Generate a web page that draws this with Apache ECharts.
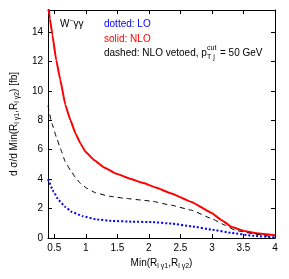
<!DOCTYPE html>
<html><head><meta charset="utf-8">
<script src="https://cdn.jsdelivr.net/npm/echarts@6/dist/echarts.min.js"></script>
<style>html,body{margin:0;padding:0;background:#fff}#c{width:289px;height:279px}</style>
</head><body><div id="c"></div>
<script>
const xTicks = [0.5, 1, 1.5, 2, 2.5, 3, 3.5, 4];
const yTicks = [0, 2, 4, 6, 8, 10, 12, 14];
const nloX = [0.40, 0.43, 0.47, 0.53, 0.595, 0.675, 0.755, 0.835, 0.915, 0.995, 1.13, 1.29, 1.475, 1.69, 1.9, 2.11, 2.355, 2.675, 2.995, 3.155, 3.315, 3.53, 3.74, 4.0];
const nloY = [16.0, 14.9, 13.8, 12.1, 10.75, 9.05, 8.02, 7.12, 6.43, 5.86, 5.3, 4.8, 4.39, 4.05, 3.75, 3.43, 3.03, 2.45, 1.70, 1.21, 0.75, 0.46, 0.3, 0.18];
const vetoX = [0.40, 0.46, 0.54, 0.595, 0.675, 0.755, 0.835, 0.915, 1.02, 1.155, 1.37, 1.635, 1.9, 2.06, 2.355, 2.675, 2.995, 3.21, 3.37, 3.64, 4.0];
const vetoY = [9.0, 7.8, 6.78, 6.09, 5.18, 4.61, 4.12, 3.71, 3.37, 3.07, 2.84, 2.69, 2.57, 2.49, 2.23, 1.89, 1.32, 0.87, 0.52, 0.3, 0.05];
const loX = [0.40, 0.49, 0.57, 0.675, 0.78, 0.94, 1.155, 1.42, 1.74, 2.06, 2.355, 2.675, 2.995, 3.315, 3.64, 4.0];
const loY = [4.0, 3.14, 2.57, 2.11, 1.77, 1.5, 1.27, 1.16, 1.11, 1.08, 0.98, 0.8, 0.57, 0.34, 0.16, 0.03];

const zip = (a, b) => a.map((v, i) => [v, b[i]]);
const F = 'Liberation Sans, Arial, sans-serif';
const chart = echarts.init(document.getElementById('c'));
const axX = (pos, show) => ({
  type: 'value', min: 0.4, max: 4, position: pos,
  axisLine: { show: true, onZero: false, lineStyle: { color: '#000', width: 1 } },
  axisTick: { show: true, inside: true, length: 4, customValues: xTicks, lineStyle: { color: '#000' } },
  axisLabel: { show: show, customValues: xTicks, color: '#000', fontFamily: F, fontSize: 10, margin: 5 },
  splitLine: { show: false }
});
const axY = (pos, show) => ({
  type: 'value', min: 0, max: 15.5, position: pos,
  axisLine: { show: true, onZero: false, lineStyle: { color: '#000', width: 1 } },
  axisTick: { show: true, inside: true, length: 4, customValues: yTicks, lineStyle: { color: '#000' } },
  axisLabel: { show: show, customValues: yTicks, color: '#000', fontFamily: F, fontSize: 10, margin: 5 },
  splitLine: { show: false }
});
const xa0 = axX('bottom', true);
xa0.name = 'Min(R{s|l γ1},R{s|l γ2})';
xa0.nameLocation = 'middle';
xa0.nameGap = 16;
xa0.nameTextStyle = { color: '#000', fontFamily: F, fontSize: 10, rich: { s: { fontSize: 7, padding: [6, 0, 0, 0], fontFamily: F } } };
const ya0 = axY('left', true);
ya0.name = 'd σ/d Min(R{s|l γ1},R{s|l γ2}) [fb]';
ya0.nameLocation = 'middle';
ya0.nameGap = 18;
ya0.nameRotate = 90;
ya0.nameTextStyle = { color: '#000', fontFamily: F, fontSize: 10, rich: { s: { fontSize: 7, padding: [6, 0, 0, 0], fontFamily: F } } };

chart.setOption({
  animation: false,
  grid: { left: 48, right: 14, top: 10, bottom: 41 },
  xAxis: [xa0, axX('top', false)],
  yAxis: [ya0, axY('right', false)],
  series: [
    { type: 'line', data: zip(nloX, nloY), smooth: 0.1, smoothMonotone: 'x', symbol: 'none', clip: true,
      lineStyle: { color: '#ff0000', width: 2 } },
    { type: 'line', data: zip(vetoX, vetoY), smooth: 0.1, smoothMonotone: 'x', symbol: 'none', clip: true,
      lineStyle: { color: '#000', width: 1, type: [5, 4] } },
    { type: 'line', data: zip(loX, loY), smooth: 0.1, smoothMonotone: 'x', symbol: 'none', clip: true,
      lineStyle: { color: '#0000ff', width: 2, type: [2, 2] } }
  ],
  graphic: [
    { type: 'text', left: 60, top: 18, style: { text: 'W{s|−}γγ', fill: '#000', font: '10px ' + F, rich: { s: { fontSize: 7, padding: [0, 0, 6, 0] } } } },
    { type: 'text', left: 104, top: 19, style: { text: 'dotted: LO', fill: '#0000ff', font: '10px ' + F } },
    { type: 'text', left: 104, top: 34, style: { text: 'solid: NLO', fill: '#ff0000', font: '10px ' + F } },
    { type: 'text', left: 104, top: 48, style: { text: 'dashed: NLO vetoed, p', fill: '#000', font: '10px ' + F } },
    { type: 'text', left: 207, top: 45, style: { text: 'cut', fill: '#000', font: '7px ' + F } },
    { type: 'text', left: 207, top: 54, style: { text: 'T j', fill: '#000', font: '7px ' + F } },
    { type: 'text', left: 220, top: 48, style: { text: '= 50 GeV', fill: '#000', font: '10px ' + F } }
  ]
});
</script></body></html>
